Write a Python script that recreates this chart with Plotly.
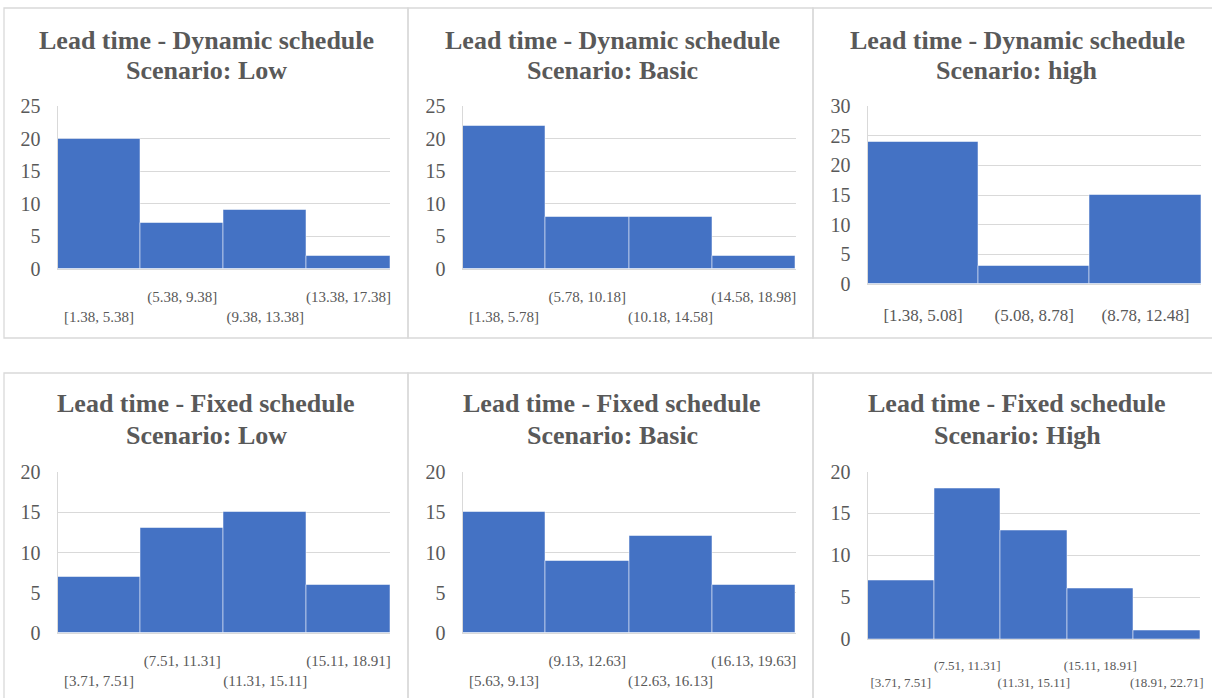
import plotly.graph_objects as go

W, H = 1212, 698

# Bin labels and counts for each lead-time histogram
dyn_low_bins = ["[1.38, 5.38]", "(5.38, 9.38]", "(9.38, 13.38]", "(13.38, 17.38]"]
dyn_low_counts = [20, 7, 9, 2]

dyn_basic_bins = ["[1.38, 5.78]", "(5.78, 10.18]", "(10.18, 14.58]", "(14.58, 18.98]"]
dyn_basic_counts = [22, 8, 8, 2]

dyn_high_bins = ["[1.38, 5.08]", "(5.08, 8.78]", "(8.78, 12.48]"]
dyn_high_counts = [24, 3, 15]

fix_low_bins = ["[3.71, 7.51]", "(7.51, 11.31]", "(11.31, 15.11]", "(15.11, 18.91]"]
fix_low_counts = [7, 13, 15, 6]

fix_basic_bins = ["[5.63, 9.13]", "(9.13, 12.63]", "(12.63, 16.13]", "(16.13, 19.63]"]
fix_basic_counts = [15, 9, 12, 6]

fix_high_bins = ["[3.71, 7.51]", "(7.51, 11.31]", "(11.31, 15.11]", "(15.11, 18.91]", "(18.91, 22.71]"]
fix_high_counts = [7, 18, 13, 6, 1]

title_lines = [
    ("Lead time - Dynamic schedule", "Scenario: Low"),
    ("Lead time - Dynamic schedule", "Scenario: Basic"),
    ("Lead time - Dynamic schedule", "Scenario: high"),
    ("Lead time - Fixed schedule", "Scenario: Low"),
    ("Lead time - Fixed schedule", "Scenario: Basic"),
    ("Lead time - Fixed schedule", "Scenario: High"),
]

FONT = "Liberation Serif"
TXT = "#595959"
GRID = "#d9d9d9"
BAR = "#4472C4"

# panel layout in pixels: plot-area box (left, right, top, bottom), y max,
# x label font size, staggered labels, label standoff, title centre x and line y's
panels = [
    dict(bins=dyn_low_bins, counts=dyn_low_counts, box=(57.5, 390, 106, 269), ymax=25,
         xfs=15, stagger=True, so=14, tx=206, ty=(40, 70)),
    dict(bins=dyn_basic_bins, counts=dyn_basic_counts, box=(462.5, 795.5, 106, 269), ymax=25,
         xfs=15, stagger=True, so=14, tx=612, ty=(40, 70)),
    dict(bins=dyn_high_bins, counts=dyn_high_counts, box=(867.5, 1201, 106, 284), ymax=30,
         xfs=17, stagger=False, so=15, tx=1017, ty=(40, 70)),
    dict(bins=fix_low_bins, counts=fix_low_counts, box=(57.5, 390, 472, 633), ymax=20,
         xfs=15, stagger=True, so=14, tx=206, ty=(404, 435)),
    dict(bins=fix_basic_bins, counts=fix_basic_counts, box=(462.5, 795.5, 472, 633), ymax=20,
         xfs=15, stagger=True, so=14, tx=612, ty=(404, 435)),
    dict(bins=fix_high_bins, counts=fix_high_counts, box=(867.5, 1200, 471.5, 639), ymax=20,
         xfs=13, stagger=True, so=14, tx=1017, ty=(404, 435)),
]

fig = go.Figure()
layout = {}
annotations = []

for i, p in enumerate(panels, start=1):
    sfx = "" if i == 1 else str(i)
    n = len(p["bins"])
    xs = list(range(n))
    fig.add_trace(go.Bar(
        x=xs, y=p["counts"], xaxis="x" + sfx, yaxis="y" + sfx,
        width=1.0, marker=dict(color=BAR, line=dict(color="rgba(255,255,255,0.5)", width=1)),
        showlegend=False, hoverinfo="x+y",
    ))
    l, r, t, b = p["box"]
    if p["stagger"]:
        ticktext = [("<br>" + s) if k % 2 == 0 else s for k, s in enumerate(p["bins"])]
    else:
        ticktext = p["bins"]
    layout["xaxis" + sfx] = dict(
        domain=[l / W, r / W], anchor="y" + sfx, range=[-0.5, n - 0.5],
        tickmode="array", tickvals=xs, ticktext=ticktext, tickangle=0,
        tickfont=dict(family=FONT, size=p["xfs"], color=TXT),
        showgrid=False, zeroline=False, ticks="", showline=True, linecolor=GRID, linewidth=1.3,
        ticklabelstandoff=p["so"], automargin=False, fixedrange=True,
    )
    layout["yaxis" + sfx] = dict(
        domain=[1 - b / H, 1 - t / H], anchor="x" + sfx, range=[0, p["ymax"]], dtick=5,
        tickfont=dict(family=FONT, size=20, color=TXT),
        showgrid=True, gridcolor=GRID, gridwidth=1.3, zeroline=False,
        showline=True, linecolor=GRID, linewidth=1, ticks="", ticklabelstandoff=12,
        automargin=False, fixedrange=True,
    )
    for line, yy in zip(title_lines[i - 1], p["ty"]):
        annotations.append(dict(
            x=p["tx"] / W, y=1 - yy / H, xref="paper", yref="paper",
            xanchor="center", yanchor="middle", text="<b>" + line + "</b>",
            showarrow=False, font=dict(family=FONT, size=26, color=TXT),
        ))

# chart-area frames around each panel
frames = [
    (4, 408, 8, 338), (408, 813, 8, 338), (813, 1214, 8, 338),
    (4, 408, 373, 700), (408, 813, 373, 700), (813, 1214, 373, 700),
]
shapes = [
    dict(type="rect", xref="paper", yref="paper",
         x0=x0 / W, x1=x1 / W, y0=1 - y1 / H, y1=1 - y0 / H,
         line=dict(color=GRID, width=1.3), fillcolor="rgba(0,0,0,0)", layer="below")
    for (x0, x1, y0, y1) in frames
]

fig.update_layout(
    width=W, height=H, margin=dict(l=0, r=0, t=0, b=0, autoexpand=False),
    paper_bgcolor="white", plot_bgcolor="white", bargap=0,
    annotations=annotations, shapes=shapes, **layout,
)

fig.write_html("out.html")
